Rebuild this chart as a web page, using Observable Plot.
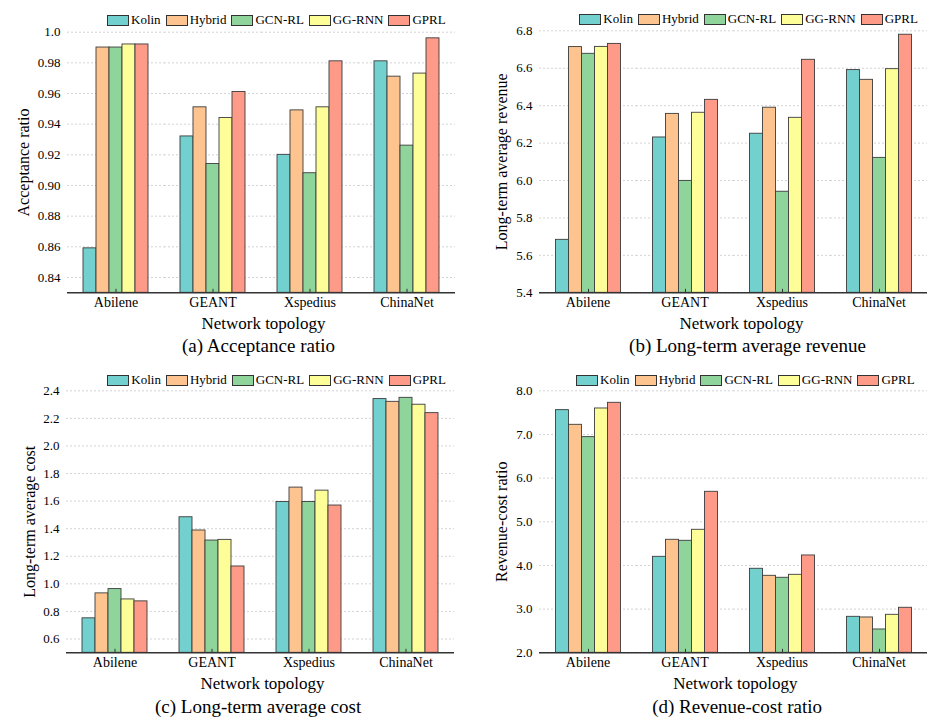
<!DOCTYPE html>
<html>
<head>
<meta charset="utf-8">
<script src="https://cdn.jsdelivr.net/npm/d3@7"></script>
<script src="https://cdn.jsdelivr.net/npm/@observablehq/plot@0.6"></script>
<style>
  html, body { margin: 0; padding: 0; background: #fff; }
  #root { position: relative; width: 947px; height: 727px; background: #fff; overflow: hidden;
          font-family: "Liberation Serif", Tinos, "Times New Roman", Times, "DejaVu Serif", "Noto Serif", serif; }
  .panel { position: absolute; }
  .panel svg { position: absolute; left: 0; top: 0; overflow: visible; }
  .legend { position: absolute; display: flex; align-items: center; height: 16px;
            font-size: 13px; color: #000; white-space: nowrap; }
  .legend .item { display: flex; align-items: center; margin-right: 5px; }
  .legend .sw { width: 20px; height: 9px; border: 1px solid #333; margin-right: 2px; }
</style>
</head>
<body>
<div id="root"></div>
<script>
// ---------- data ----------
const topologies = ["Abilene", "GEANT", "Xspedius", "ChinaNet"];
const methods = ["Kolin", "Hybrid", "GCN-RL", "GG-RNN", "GPRL"];
const methodColors = ["#72D0CF", "#FEC48F", "#8FD49B", "#FEFE99", "#FE9A88"];

// values indexed [method][topology]
const acceptanceRatio = [
  [0.859, 0.932, 0.920, 0.981],
  [0.990, 0.951, 0.949, 0.971],
  [0.990, 0.914, 0.908, 0.926],
  [0.992, 0.944, 0.951, 0.973],
  [0.992, 0.961, 0.981, 0.996]
];
const averageRevenue = [
  [5.683, 6.230, 6.250, 6.590],
  [6.713, 6.356, 6.389, 6.538],
  [6.677, 5.998, 5.940, 6.121],
  [6.714, 6.362, 6.335, 6.595],
  [6.730, 6.431, 6.645, 6.779]
];
const averageCost = [
  [0.750, 1.483, 1.594, 2.340],
  [0.931, 1.387, 1.698, 2.320],
  [0.962, 1.314, 1.594, 2.349],
  [0.887, 1.319, 1.676, 2.299],
  [0.873, 1.126, 1.568, 2.238]
];
const revenueCostRatio = [
  [7.557, 4.198, 3.924, 2.824],
  [7.221, 4.588, 3.763, 2.809],
  [6.939, 4.565, 3.718, 2.534],
  [7.595, 4.817, 3.786, 2.870],
  [7.725, 5.687, 4.229, 3.031]
];

const ticksA = [0.84, 0.86, 0.88, 0.90, 0.92, 0.94, 0.96, 0.98, 1.0];
const tickLabelsA = ["0.84", "0.86", "0.88", "0.90", "0.92", "0.94", "0.96", "0.98", "1.0"];
const ticksB = [5.4, 5.6, 5.8, 6.0, 6.2, 6.4, 6.6, 6.8];
const tickLabelsB = ["5.4", "5.6", "5.8", "6.0", "6.2", "6.4", "6.6", "6.8"];
const ticksC = [0.6, 0.8, 1.0, 1.2, 1.4, 1.6, 1.8, 2.0, 2.2, 2.4];
const tickLabelsC = ["0.6", "0.8", "1.0", "1.2", "1.4", "1.6", "1.8", "2.0", "2.2", "2.4"];
const ticksD = [2, 3, 4, 5, 6, 7, 8];
const tickLabelsD = ["2.0", "3.0", "4.0", "5.0", "6.0", "7.0", "8.0"];

const xTitle = "Network topology";

// ---------- drawing ----------
const FONT = "'Liberation Serif', Tinos, 'Times New Roman', Times, 'DejaVu Serif', 'Noto Serif', serif";

function makePanel(cfg) {
  const rows = [];
  methods.forEach((m, i) => topologies.forEach((t, j) => {
    rows.push({topology: t, method: m, value: cfg.values[i][j]});
  }));
  const yMin = cfg.domain[0];
  const midMethod = methods[Math.floor(methods.length / 2)];

  const chart = Plot.plot({
    width: cfg.width,
    height: cfg.height,
    marginLeft: cfg.ml,
    marginRight: cfg.mr,
    marginTop: cfg.mt,
    marginBottom: cfg.mb,
    style: {fontFamily: FONT, fontSize: "13px", color: "#000", background: "transparent", overflow: "visible"},
    fx: {domain: topologies, padding: 0, label: null},
    x: {domain: methods, axis: null, paddingInner: 0, paddingOuter: 1.04},
    y: {domain: cfg.domain, label: null},
    color: {domain: methods, range: methodColors},
    marks: [
      Plot.ruleY(cfg.ticks, {stroke: "#c8c8c8", strokeWidth: 0.8, strokeDasharray: "2,2"}),
      Plot.barY(rows, {
        fx: "topology", x: "method", y1: () => yMin, y2: "value",
        fill: "method", stroke: "#3c3c3c", strokeWidth: 0.9
      }),
      Plot.ruleY([yMin], {stroke: "#333", strokeWidth: 1.5}),
      Plot.ruleX(topologies, {
        fx: (d) => d, x: () => midMethod, y1: () => yMin, y2: () => yMin,
        insetBottom: 3.5, stroke: "#333", strokeWidth: 1
      }),
      Plot.axisY({
        ticks: cfg.ticks,
        tickFormat: (d) => cfg.tickLabels[cfg.ticks.indexOf(d)],
        tickSize: 0, tickPadding: 7, fontSize: 13, fontFamily: FONT, label: null
      }),
      Plot.axisFx({anchor: "bottom", tickSize: 0, tickPadding: 4, fontSize: 14, fontFamily: FONT, label: null}),
      Plot.text([{fx: topologies[0], t: cfg.yTitle}], {
        fx: "fx", text: "t", frameAnchor: "left", rotate: -90, fontFamily: FONT,
        dx: cfg.yTitleDx, fontSize: 16, textAnchor: "middle", lineAnchor: "middle"
      }),
      Plot.text([{fx: topologies[1], t: xTitle}], {
        fx: "fx", text: "t", frameAnchor: "bottom-right", fontFamily: FONT,
        dx: cfg.xTitleDx, dy: cfg.xTitleDy, fontSize: 17, textAnchor: "middle", lineAnchor: "middle"
      }),
      Plot.text([{fx: topologies[1], t: cfg.caption}], {
        fx: "fx", text: "t", frameAnchor: "bottom-right", fontFamily: FONT,
        dx: cfg.capDx, dy: cfg.capDy, fontSize: 19, textAnchor: "middle", lineAnchor: "middle"
      })
    ]
  });

  const panel = document.createElement("div");
  panel.className = "panel";
  panel.style.left = cfg.left + "px";
  panel.style.top = cfg.top + "px";
  panel.style.width = cfg.width + "px";
  panel.style.height = cfg.height + "px";
  panel.appendChild(chart);

  const legend = document.createElement("div");
  legend.className = "legend";
  legend.style.left = cfg.legendX + "px";
  legend.style.top = (cfg.legendY - 8) + "px";
  methods.forEach((m, i) => {
    const item = document.createElement("div");
    item.className = "item";
    const sw = document.createElement("div");
    sw.className = "sw";
    sw.style.background = methodColors[i];
    const lab = document.createElement("span");
    lab.textContent = m;
    item.appendChild(sw);
    item.appendChild(lab);
    legend.appendChild(item);
  });
  panel.appendChild(legend);
  document.getElementById("root").appendChild(panel);
}

makePanel({
  values: acceptanceRatio, domain: [0.83, 1.0], ticks: ticksA, tickLabels: tickLabelsA,
  yTitle: "Acceptance ratio", caption: "(a) Acceptance ratio",
  left: 0, top: 0, width: 470, height: 360, ml: 65, mr: 14, mt: 31.7, mb: 67.7,
  yTitleDx: -43.3, xTitleDx: 2, xTitleDy: 30.4, capDx: -3, capDy: 52.7,
  legendX: 107, legendY: 20
});
makePanel({
  values: averageRevenue, domain: [5.4, 6.8], ticks: ticksB, tickLabels: tickLabelsB,
  yTitle: "Long-term average revenue", caption: "(b) Long-term average revenue",
  left: 470, top: 0, width: 477, height: 360, ml: 67.5, mr: 19.5, mt: 30.3, mb: 67.7,
  yTitleDx: -37.7, xTitleDx: 8, xTitleDy: 30.4, capDx: 14, capDy: 52.7,
  legendX: 109.3, legendY: 19.3
});
makePanel({
  values: averageCost, domain: [0.5, 2.4], ticks: ticksC, tickLabels: tickLabelsC,
  yTitle: "Long-term average cost", caption: "(c) Long-term average cost",
  left: 0, top: 360, width: 470, height: 367, ml: 65, mr: 14.3, mt: 30.3, mb: 74.7,
  yTitleDx: -36.7, xTitleDx: 2, xTitleDy: 30.4, capDx: -2.4, capDy: 54.4,
  legendX: 107.3, legendY: 20
});
makePanel({
  values: revenueCostRatio, domain: [2, 8], ticks: ticksD, tickLabels: tickLabelsD,
  yTitle: "Revenue-cost ratio", caption: "(d) Revenue-cost ratio",
  left: 470, top: 360, width: 477, height: 367, ml: 67.5, mr: 19.5, mt: 30.3, mb: 74.7,
  yTitleDx: -38, xTitleDx: 1.8, xTitleDy: 30.4, capDx: 3.6, capDy: 54.4,
  legendX: 106, legendY: 20
});
</script>
</body>
</html>
